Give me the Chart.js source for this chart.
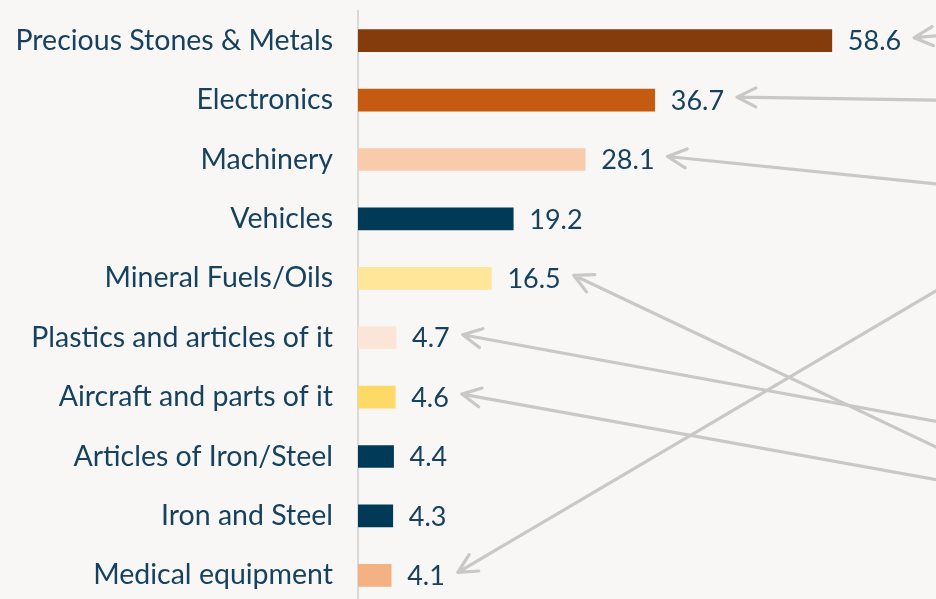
<!DOCTYPE html>
<html>
<head>
<meta charset="utf-8">
<script src="https://cdn.jsdelivr.net/npm/chart.js@4"></script>
<style>
  html, body { margin: 0; padding: 0; background: #f8f7f5; overflow: hidden; }
  #wrap { width: 936px; height: 616px; position: relative; }
</style>
</head>
<body>
<div id="wrap"><canvas id="exportsChart"></canvas></div>
<script>
const categories = [
  "Precious Stones & Metals",
  "Electronics",
  "Machinery",
  "Vehicles",
  "Mineral Fuels/Oils",
  "Plastics and articles of it",
  "Aircraft and parts of it",
  "Articles of Iron/Steel",
  "Iron and Steel",
  "Medical equipment",
];
const values = [58.6, 36.7, 28.1, 19.2, 16.5, 4.7, 4.6, 4.4, 4.3, 4.1];
const barColors = [
  "#843c0c", "#c55a11", "#f8cbad", "#003a57", "#ffe699",
  "#fbe5d6", "#ffd966", "#003a57", "#003a57", "#f4b183",
];
// row (fractional index) where each pointer arrow enters from the right edge; null = no arrow
const arrowFrom = [-0.08, 1.0, 2.41, null, 6.84, 6.41, 7.39, null, null, 4.21];

const FONT = "Lato, 'DejaVu Sans', sans-serif";
const TEXT_COLOR = "#17425f";
const ARROW_COLOR = "#c8c8c8";

function drawArrow(ctx, fromX, fromY, toX, toY) {
  const ang = Math.atan2(toY - fromY, toX - fromX);
  const head = 21;
  const spread = (27 * Math.PI) / 180;
  ctx.beginPath();
  ctx.moveTo(fromX, fromY);
  ctx.lineTo(toX, toY);
  ctx.moveTo(toX - head * Math.cos(ang - spread), toY - head * Math.sin(ang - spread));
  ctx.lineTo(toX, toY);
  ctx.lineTo(toX - head * Math.cos(ang + spread), toY - head * Math.sin(ang + spread));
  ctx.stroke();
}

const valueLabels = {
  id: "valueLabels",
  afterDatasetsDraw(chart) {
    const ctx = chart.ctx;
    const meta = chart.getDatasetMeta(0);
    const yScale = chart.scales.y;
    ctx.save();
    ctx.font = "27px " + FONT;
    ctx.textBaseline = "middle";
    ctx.textAlign = "left";
    ctx.strokeStyle = ARROW_COLOR;
    ctx.lineWidth = 3.2;
    ctx.lineCap = "round";
    ctx.lineJoin = "round";
    meta.data.forEach((bar, i) => {
      const txt = values[i].toFixed(1);
      const x = bar.x + 16;
      ctx.fillStyle = TEXT_COLOR;
      ctx.fillText(txt, x, bar.y + 1);
      if (arrowFrom[i] === null) return;
      const tipX = x + ctx.measureText(txt).width + 13;
      const tipY = bar.y - 3;
      const edgeY = yScale.getPixelForValue(arrowFrom[i]);
      // run the shaft a bit past the canvas edge so it looks cut off
      const slope = (edgeY - tipY) / (chart.width - tipX);
      const tailX = chart.width + 30;
      const tailY = edgeY + slope * 30;
      drawArrow(ctx, tailX, tailY, tipX, tipY);
    });
    ctx.restore();
  },
};

const ctx = document.getElementById("exportsChart").getContext("2d");
const chart = new Chart(ctx, {
  type: "bar",
  data: {
    labels: categories,
    datasets: [
      {
        data: values,
        backgroundColor: barColors,
        borderWidth: 0,
        barThickness: 22,
      },
    ],
  },
  options: {
    indexAxis: "y",
    responsive: true,
    maintainAspectRatio: false,
    animation: false,
    layout: { padding: { top: 11, bottom: 11, left: 0, right: 12 } },
    plugins: {
      legend: { display: false },
      tooltip: { enabled: false },
    },
    scales: {
      x: { display: false, min: 0, max: 70 },
      y: {
        grid: { display: false, drawTicks: false },
        border: { display: true, color: "#d9d9d9", width: 2 },
        ticks: {
          color: TEXT_COLOR,
          font: { family: FONT, size: 28.5 },
          padding: 25,
        },
        afterFit: (scale) => {
          scale.width = 358;
          scale.paddingTop = 0;
          scale.paddingBottom = 0;
        },
      },
    },
  },
  plugins: [valueLabels],
});
</script>
</body>
</html>
